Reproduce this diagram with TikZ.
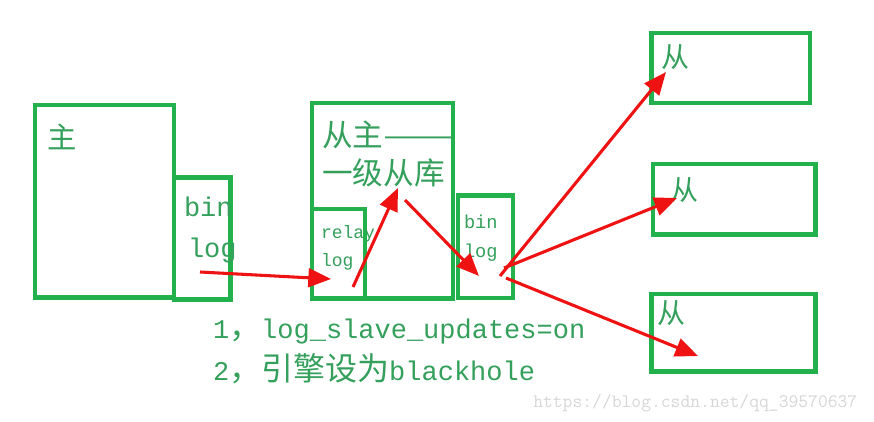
\documentclass[tikz,border=0pt]{standalone}
\usepackage{fontspec}
\usepackage{graphicx}
\newfontfamily\cjk{Noto Sans CJK SC}
\newfontfamily\mono{Liberation Mono}
\usetikzlibrary{arrows.meta}
\definecolor{boxgreen}{RGB}{34,177,76}
\definecolor{txtgreen}{RGB}{52,160,92}
\definecolor{arrred}{RGB}{238,18,18}
\definecolor{wmgray}{RGB}{215,215,215}
\newcommand\pbox[5]{\node[box, minimum width={(#4-#2)*0.75pt}, minimum height={(#5-#3)*0.75pt}, anchor=north west] (#1) at (#2,#3) {};}
\tikzset{
  box/.style={draw=boxgreen, line width=3.3pt, inner sep=0pt, outer sep=0pt},
  lbl/.style={text=txtgreen, inner sep=0pt, outer sep=0pt},
  arr/.style={draw=arrred, line width=2.3pt, -{Triangle[length=17pt,width=14pt]}},
}
\begin{document}
\begin{tikzpicture}[x=0.75pt,y=-0.75pt]
\fill[white] (0,0) rectangle (874,421);
\useasboundingbox (0,0) rectangle (874,421);
% boxes
\pbox{master}{34.7}{104.7}{174}{297.5}
\pbox{mbin}{174}{177.5}{230.5}{299.5}
\pbox{mid}{312}{103}{453}{298.4}
\pbox{relay}{312}{208.7}{365}{298.4}
\pbox{sbin}{458}{195.3}{513}{297.7}
\pbox{r1}{651.3}{32.7}{810}{103.2}
\pbox{r2}{653}{163.8}{815.3}{234.5}
\pbox{r3}{651.3}{293.8}{815.3}{371.3}
% labels
\node[lbl, anchor=west, font=\cjk\fontsize{22pt}{22pt}\selectfont] (tmaster) at (47,137) {主};
\node[lbl, anchor=base west, font=\mono\fontsize{20.25pt}{20pt}\selectfont] (tmb1) at (184,216) {bin};
\node[lbl, anchor=base west, font=\mono\fontsize{20.25pt}{20pt}\selectfont] (tmb2) at (188,257) {log};
\node[lbl, anchor=west, font=\cjk\fontsize{23pt}{23pt}\selectfont] (tmid1) at (322,135) {从主\scalebox{1.4}[1]{——}};
\node[lbl, anchor=west, font=\cjk\fontsize{23pt}{23pt}\selectfont] (tmid2) at (322,173) {一级从库};
\node[lbl, anchor=base west, font=\mono\fontsize{13.5pt}{13pt}\selectfont] (trl1) at (321,238) {relay};
\node[lbl, anchor=base west, font=\mono\fontsize{13.5pt}{13pt}\selectfont] (trl2) at (321,266) {log};
\node[lbl, anchor=base west, font=\mono\fontsize{14pt}{14pt}\selectfont] (tsb1) at (464,228) {bin};
\node[lbl, anchor=base west, font=\mono\fontsize{14pt}{14pt}\selectfont] (tsb2) at (464,257) {log};
\node[lbl, anchor=west, font=\cjk\fontsize{21pt}{21pt}\selectfont] (tr1) at (661,57) {从};
\node[lbl, anchor=west, font=\cjk\fontsize{21pt}{21pt}\selectfont] (tr2) at (670,190) {从};
\node[lbl, anchor=west, font=\cjk\fontsize{21pt}{21pt}\selectfont] (tr3) at (657,313) {从};
\node[lbl, anchor=base west] (note1) at (213,338) {\mono\fontsize{20.25pt}{20pt}\selectfont 1{\cjk\fontsize{24pt}{24pt}\selectfont ，}log\_slave\_updates=on};
\node[lbl, anchor=base west] (note2) at (213,380) {\mono\fontsize{20.25pt}{20pt}\selectfont 2{\cjk\fontsize{24pt}{24pt}\selectfont ，引擎设为}blackhole};
\node[text=wmgray, inner sep=0pt, anchor=base west, font=\ttfamily\fontsize{14.3pt}{14pt}\selectfont] (wm) at (533,407) {https://blog.csdn.net/qq\_39570637};
% arrow end points
\coordinate (a1s) at (200,272); \coordinate (a1e) at (331,279);
\coordinate (a2s) at (353,287); \coordinate (a2e) at (398,188);
\coordinate (a3s) at (405,200); \coordinate (a3e) at (479,276);
\coordinate (a4s) at (500,276); \coordinate (a4e) at (666,72);
\coordinate (a5s) at (504,268); \coordinate (a5e) at (677,198);
\coordinate (a6s) at (506,278); \coordinate (a6e) at (698,356);
\draw[arr] (a1s) -- (a1e);
\draw[arr] (a2s) -- (a2e);
\draw[arr] (a3s) -- (a3e);
\draw[arr] (a4s) -- (a4e);
\draw[arr] (a5s) -- (a5e);
\draw[arr] (a6s) -- (a6e);
\end{tikzpicture}
\end{document}
